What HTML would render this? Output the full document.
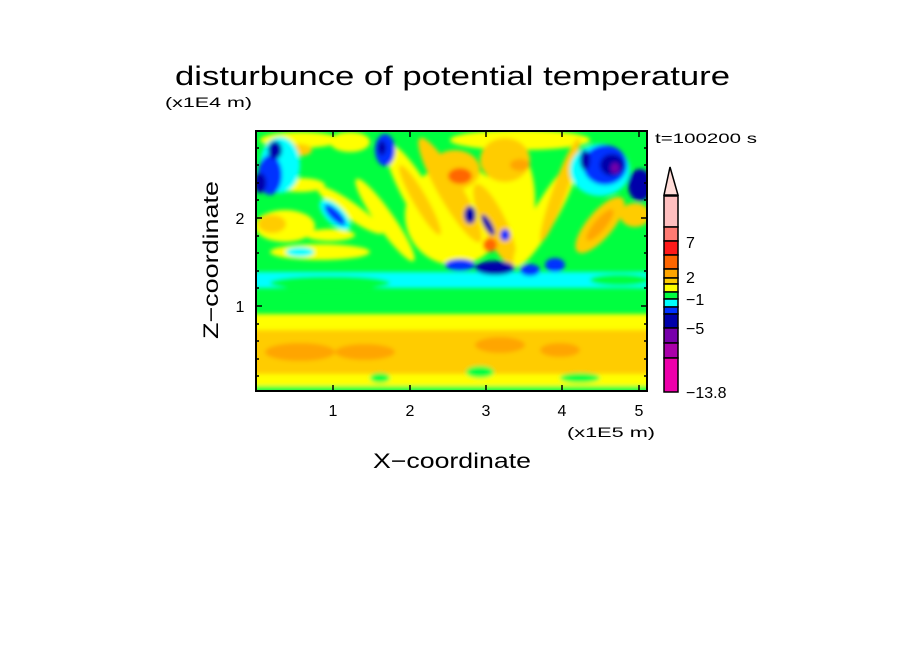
<!DOCTYPE html>
<html><head><meta charset="utf-8"><style>html,body{margin:0;padding:0;background:#fff}svg{display:block}</style></head>
<body>
<svg width="904" height="654" viewBox="0 0 904 654" xmlns="http://www.w3.org/2000/svg" font-family="Liberation Sans, sans-serif">
<defs>
<clipPath id="pc"><rect x="256" y="131" width="391" height="260"/></clipPath>
<filter id="b1" x="-20%" y="-20%" width="140%" height="140%"><feGaussianBlur stdDeviation="2"/></filter>
</defs>
<text x="175" y="85" font-size="27" textLength="555" lengthAdjust="spacingAndGlyphs">disturbunce of potential temperature</text>
<text x="165" y="107" font-size="14" textLength="87" lengthAdjust="spacingAndGlyphs">(x1E4 m)</text>
<text x="655" y="143" font-size="14" textLength="102" lengthAdjust="spacingAndGlyphs">t=100200 s</text>

<g clip-path="url(#pc)">
<rect x="256" y="131" width="391" height="260" fill="#00ff40"/>
<g filter="url(#b1)">
<rect x="250" y="314" width="400" height="72" fill="#ffff00"/>
<rect x="250" y="330" width="400" height="44" fill="#ffcc00"/>
<ellipse cx="300" cy="352" rx="35" ry="9" fill="#ffa500"/>
<ellipse cx="365" cy="352" rx="30" ry="8" fill="#ffa500"/>
<ellipse cx="500" cy="345" rx="25" ry="8" fill="#ffa500"/>
<ellipse cx="560" cy="350" rx="20" ry="7" fill="#ffa500"/>
<ellipse cx="480" cy="372" rx="14" ry="6" fill="#00ff40"/>
<ellipse cx="380" cy="378" rx="10" ry="5" fill="#00ff40"/>
<ellipse cx="580" cy="378" rx="20" ry="5" fill="#00ff40"/>
<rect x="250" y="386" width="400" height="8" fill="#00ff40"/>
<rect x="250" y="272" width="400" height="16" fill="#00ffff" rx="6"/>
<ellipse cx="330" cy="283" rx="60" ry="7" fill="#00ff40"/>
<ellipse cx="620" cy="280" rx="30" ry="6" fill="#00ff40"/>
<ellipse cx="300" cy="140" rx="40" ry="8" fill="#ffff00"/>
<ellipse cx="350" cy="142" rx="20" ry="10" fill="#ffff00"/>
<ellipse cx="520" cy="140" rx="70" ry="10" fill="#ffff00"/>
<ellipse cx="285" cy="226" rx="30" ry="16" fill="#ffff00"/>
<ellipse cx="272" cy="224" rx="14" ry="9" fill="#ffcc00"/>
<ellipse cx="320" cy="252" rx="50" ry="8" fill="#ffff00"/>
<ellipse cx="300" cy="185" rx="25" ry="7" fill="#ffff00"/>
<ellipse cx="455" cy="215" rx="50" ry="50" fill="#ffff00"/>
<ellipse cx="510" cy="200" rx="25" ry="55" fill="#ffff00"/>
<g transform="rotate(35 350 210)"><ellipse cx="350" cy="210" rx="40" ry="8" fill="#ffff00"/></g>
<g transform="rotate(55 385 220)"><ellipse cx="385" cy="220" rx="50" ry="9" fill="#ffff00"/></g>
<g transform="rotate(60 420 200)"><ellipse cx="420" cy="200" rx="65" ry="14" fill="#ffff00"/><ellipse cx="420" cy="200" rx="40" ry="7" fill="#ffcc00"/></g>
<g transform="rotate(60 450 190)"><ellipse cx="450" cy="190" rx="60" ry="12" fill="#ffcc00"/></g>
<ellipse cx="455" cy="170" rx="25" ry="20" fill="#ffcc00"/>
<ellipse cx="460" cy="176" rx="12" ry="8" fill="#ff6600"/>
<ellipse cx="505" cy="160" rx="25" ry="22" fill="#ffcc00"/>
<ellipse cx="520" cy="165" rx="10" ry="6" fill="#ffa500"/>
<g transform="rotate(65 495 225)"><ellipse cx="495" cy="225" rx="45" ry="12" fill="#ffcc00"/></g>
<ellipse cx="490" cy="245" rx="7" ry="7" fill="#ff6600"/>
<g transform="rotate(-60 545 215)"><ellipse cx="545" cy="215" rx="60" ry="12" fill="#ffff00"/></g>
<g transform="rotate(-70 560 190)"><ellipse cx="560" cy="190" rx="55" ry="7" fill="#ffcc00"/></g>
<g transform="rotate(-50 600 225)"><ellipse cx="600" cy="225" rx="35" ry="13" fill="#ffcc00"/><ellipse cx="600" cy="225" rx="20" ry="6" fill="#ffa500"/></g>
<ellipse cx="635" cy="215" rx="15" ry="12" fill="#ffcc00"/>
<ellipse cx="300" cy="150" rx="12" ry="6" fill="#ffcc00"/>
<ellipse cx="330" cy="235" rx="25" ry="6" fill="#ffff00"/>
<ellipse cx="280" cy="165" rx="20" ry="28" fill="#00ffff"/>
<ellipse cx="270" cy="175" rx="12" ry="20" fill="#0033ff"/>
<ellipse cx="260" cy="183" rx="6" ry="10" fill="#0000aa"/>
<ellipse cx="275" cy="150" rx="7" ry="9" fill="#0000aa"/>
<g transform="rotate(45 335 215)"><ellipse cx="335" cy="215" rx="20" ry="9" fill="#00ffff"/><ellipse cx="335" cy="215" rx="14" ry="5" fill="#0033ff"/></g>
<ellipse cx="385" cy="150" rx="10" ry="16" fill="#0033ff"/>
<ellipse cx="382" cy="148" rx="4" ry="7" fill="#0000aa"/>
<ellipse cx="300" cy="252" rx="14" ry="5" fill="#00ffff"/>
<ellipse cx="460" cy="265" rx="15" ry="6" fill="#0033ff"/>
<ellipse cx="495" cy="268" rx="20" ry="7" fill="#0000aa"/>
<ellipse cx="470" cy="215" rx="6" ry="9" fill="#0000aa"/>
<g transform="rotate(60 488 225)"><ellipse cx="488" cy="225" rx="12" ry="4" fill="#0000aa"/></g>
<ellipse cx="505" cy="235" rx="5" ry="6" fill="#0033ff"/>
<ellipse cx="555" cy="265" rx="10" ry="7" fill="#0033ff"/>
<ellipse cx="530" cy="270" rx="10" ry="6" fill="#0033ff"/>
<ellipse cx="600" cy="170" rx="30" ry="26" fill="#00ffff"/>
<ellipse cx="605" cy="165" rx="22" ry="20" fill="#0033ff"/>
<ellipse cx="612" cy="165" rx="12" ry="11" fill="#0000aa"/>
<ellipse cx="615" cy="168" rx="4" ry="5" fill="#7700aa"/>
<ellipse cx="640" cy="185" rx="12" ry="16" fill="#0000aa"/>
<ellipse cx="585" cy="160" rx="5" ry="10" fill="#0000aa"/>
</g>
</g>
<rect x="256" y="131" width="391" height="260" fill="none" stroke="#000" stroke-width="2"/>
<g stroke="#000" stroke-width="1.5">
<path d="M333 391v-6M410 391v-6M486 391v-6M562 391v-6M639 391v-6M333 131v6M410 131v6M486 131v6M562 131v6M639 131v6"/>
<path d="M256 306h6M256 218h6M647 306h-6M647 218h-6"/>
<path d="M256 376h3M256 359h3M256 341h3M256 324h3M256 288h3M256 271h3M256 253h3M256 236h3M256 200h3M256 183h3M256 165h3M256 148h3M647 376h-3M647 359h-3M647 341h-3M647 324h-3M647 288h-3M647 271h-3M647 253h-3M647 236h-3M647 200h-3M647 183h-3M647 165h-3M647 148h-3"/>
</g>
<g font-size="16" text-anchor="middle">
<text x="333" y="416">1</text><text x="410" y="416">2</text><text x="486" y="416">3</text><text x="562" y="416">4</text><text x="639" y="416">5</text>
<text x="240" y="312">1</text><text x="240" y="224">2</text>
</g>
<text x="567" y="437" font-size="14" textLength="88" lengthAdjust="spacingAndGlyphs">(x1E5 m)</text>
<text x="452" y="468" font-size="21" text-anchor="middle" textLength="158" lengthAdjust="spacingAndGlyphs">X−coordinate</text>
<text transform="translate(218,260) rotate(-90)" font-size="21" text-anchor="middle" textLength="158" lengthAdjust="spacingAndGlyphs">Z−coordinate</text>
<g stroke="#000" stroke-width="1.5">
<polygon points="670,167 664,195 678,195" fill="#ffdcd8"/>
<rect x="664" y="196" width="14" height="31" fill="#ffbfbf"/>
<rect x="664" y="227" width="14" height="14" fill="#ff7b73"/>
<rect x="664" y="241" width="14" height="14" fill="#ff1a1a"/>
<rect x="664" y="255" width="14" height="14" fill="#ff6600"/>
<rect x="664" y="269" width="14" height="9" fill="#ffa500"/>
<rect x="664" y="278" width="14" height="6" fill="#ffcc00"/>
<rect x="664" y="284" width="14" height="8" fill="#ffff00"/>
<rect x="664" y="292" width="14" height="7" fill="#00ff40"/>
<rect x="664" y="299" width="14" height="8" fill="#00ffff"/>
<rect x="664" y="307" width="14" height="7" fill="#0033ff"/>
<rect x="664" y="314" width="14" height="14" fill="#0000aa"/>
<rect x="664" y="328" width="14" height="15" fill="#7700aa"/>
<rect x="664" y="343" width="14" height="15" fill="#aa00aa"/>
<rect x="664" y="358" width="14" height="34" fill="#ee00aa"/>
</g>
<g font-size="16">
<text x="686" y="248">7</text><text x="686" y="283">2</text><text x="686" y="305">−1</text><text x="686" y="334">−5</text><text x="686" y="398">−13.8</text>
</g>
</svg>
</body></html>
